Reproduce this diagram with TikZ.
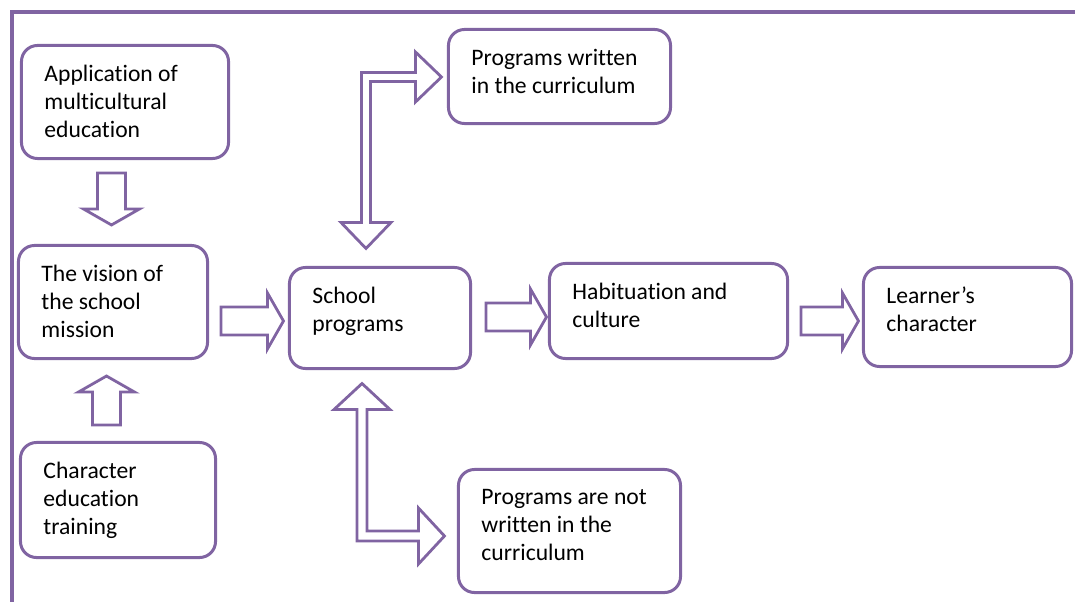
\documentclass[tikz,border=0pt]{standalone}
\usepackage{fontspec}
\setmainfont{Carlito}[Ligatures=NoCommon]
\usepackage{tikz}
\usetikzlibrary{calc}
\definecolor{framepurple}{RGB}{128,100,162}
\def\boxtext#1#2#3{\parbox[c][#2][t]{#1}{\vspace*{0.075cm}\raggedright #3}}
\def\blockarrow(#1)(#2){%
	\coordinate (ba-base) at ($(#2)!0.4cm!(#1)$);
	\draw[blockline] ($(#1)!0.35cm!90:(#2)$) -- ($(ba-base)!0.35cm!90:(#2)$) -- ($(ba-base)!0.7cm!90:(#2)$) -- (#2) -- ($(ba-base)!0.7cm!-90:(#2)$) -- ($(ba-base)!0.35cm!-90:(#2)$) -- ($(#1)!0.35cm!-90:(#2)$) -- cycle;}
\tikzset{
	stage/.style={draw=framepurple, line width=0.075cm, rounded corners=0.4cm, fill=white, text=black, inner xsep=0.575cm, inner ysep=0.42cm, font=\fontsize{16.8pt}{19.9pt}\selectfont},
	blockline/.style={draw=framepurple, line width=0.07cm, fill=white},
	frameline/.style={draw=framepurple, line width=0.08cm}
}
\begin{document}
\begin{tikzpicture}[x=0.025cm, y=-0.025cm]
		%%%%% START %%%%%
		\useasboundingbox (0,0) rectangle (1075,602);
		
		\draw[frameline] (12,602) -- (12,12) -- (1075,12);
		
		\node[stage] (app) at (125,102) {\boxtext{4.025cm}{1.985cm}{Application of\\multicultural\\education}};
		\node[stage] (vis) at (113,302) {\boxtext{3.575cm}{1.985cm}{The vision of\\the school\\mission}};
		\node[stage] (chr) at (118,500) {\boxtext{3.725cm}{2.035cm}{Character\\education\\training}};
		
		\node[stage] (sch) at (380,318) {\boxtext{3.375cm}{1.685cm}{School\\programs}};
		\node[stage] (wri) at (559.5,76.5) {\boxtext{4.4cm}{1.51cm}{Programs written\\in the curriculum}};
		\node[stage] (nwr) at (569.5,531) {\boxtext{4.4cm}{2.235cm}{Programs are not\\written in the\\curriculum}};
		
		\node[stage] (hab) at (668.5,311) {\boxtext{4.8cm}{1.535cm}{Habituation and\\culture}};
		\node[stage] (lrn) at (967.5,317) {\boxtext{4.05cm}{1.635cm}{Learner’s\\character}};
		
		% straight block arrows
		\coordinate (av-s) at ($(app.south)+(-13.5,13)$);
		\coordinate (av-e) at ($(av-s |- vis.north)+(0,-19)$);
		\blockarrow(av-s)(av-e)
		
		\coordinate (cv-s) at ($(chr.north)+(-11.5,-16)$);
		\coordinate (cv-e) at ($(cv-s |- vis.south)+(0,16)$);
		\blockarrow(cv-s)(cv-e)
		
		\coordinate (vs-e) at ($(sch.west)+(-4.5,3)$);
		\coordinate (vs-s) at ($(vis.east |- vs-e)+(12,0)$);
		\blockarrow(vs-s)(vs-e)
		
		\coordinate (sh-s) at ($(sch.east)+(14,-1)$);
		\coordinate (sh-e) at ($(hab.west |- sh-s)+(-1.5,0)$);
		\blockarrow(sh-s)(sh-e)
		
		\coordinate (hl-e) at ($(lrn.west)+(-3.5,4)$);
		\coordinate (hl-s) at ($(hab.east |- hl-e)+(12,0)$);
		\blockarrow(hl-s)(hl-e)
		
		% bent double arrow, top
		\coordinate (tb) at ($(sch.north)+(-14,-17.5)$);
		\coordinate (tr) at ($(wri.west)+(-5.5,0.5)$);
		\draw[blockline] (tr) -- ($(tr)+(-26,-25)$) -- ($(tr)+(-26,-4.5)$) -- ($(tb |- tr)+(-4.5,-4.5)$) -- ($(tb)+(-4.5,-26)$) -- ($(tb)+(-25,-26)$) -- (tb) -- ($(tb)+(25,-26)$) -- ($(tb)+(4.5,-26)$) -- ($(tb |- tr)+(4.5,4.5)$) -- ($(tr)+(-26,4.5)$) -- ($(tr)+(-26,25)$) -- cycle;
		
		% bent double arrow, bottom
		\coordinate (bb) at ($(sch.south)+(-18,13.5)$);
		\coordinate (br) at ($(nwr.west)+(-12.5,5)$);
		\draw[blockline] (bb) -- ($(bb)+(28,26)$) -- ($(bb)+(5,26)$) -- ($(bb |- br)+(5,-5)$) -- ($(br)+(-26,-5)$) -- ($(br)+(-26,-28)$) -- (br) -- ($(br)+(-26,28)$) -- ($(br)+(-26,5)$) -- ($(bb |- br)+(-5,5)$) -- ($(bb)+(-5,26)$) -- ($(bb)+(-28,26)$) -- cycle;
		
		%%%%% END %%%%%
\end{tikzpicture}
\end{document}
